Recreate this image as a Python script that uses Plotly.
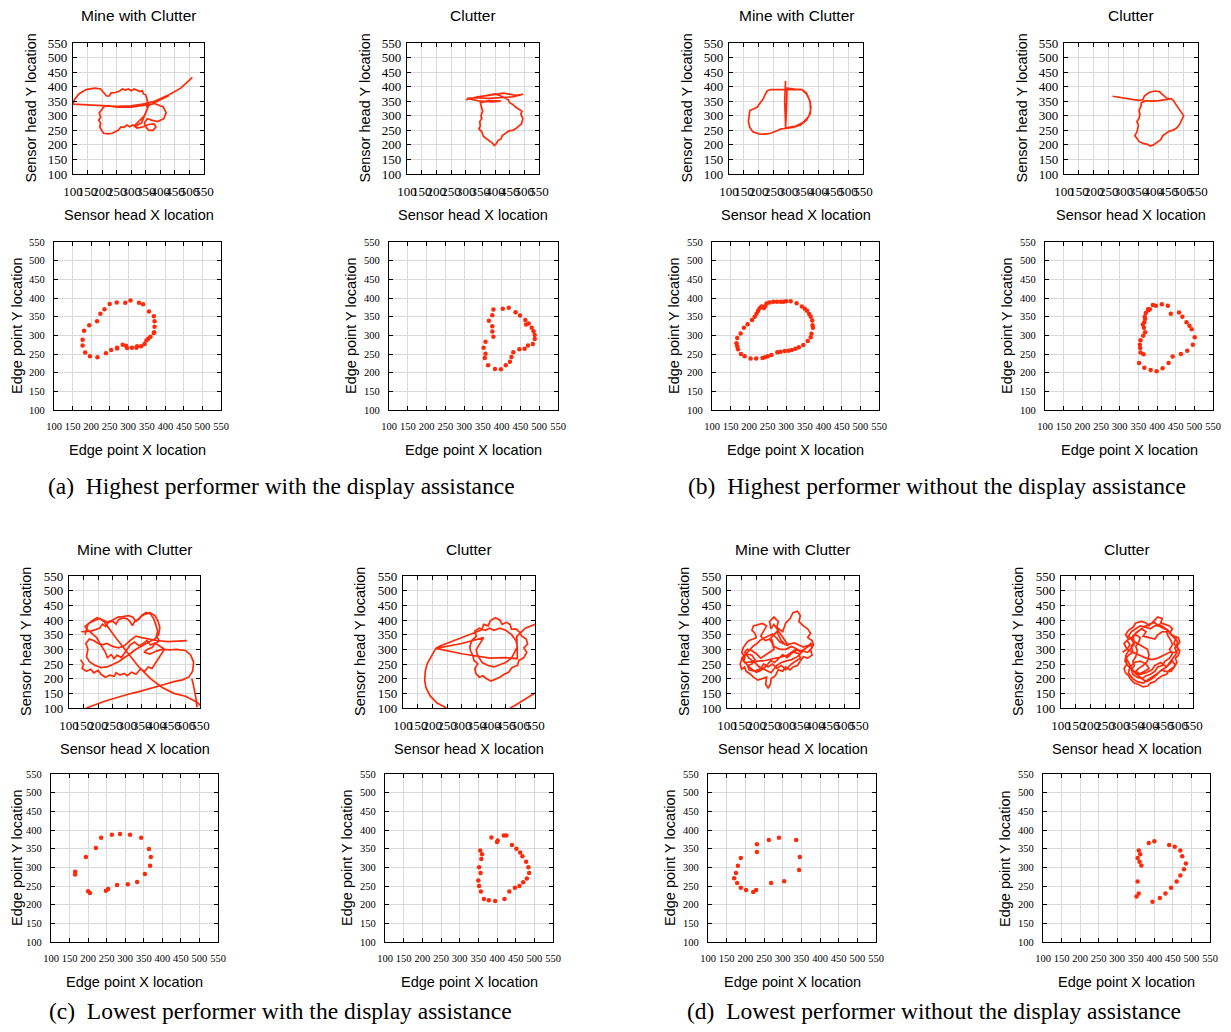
import plotly.graph_objects as go

# ---------------- DATA ----------------
tick_vals = [100, 150, 200, 250, 300, 350, 400, 450, 500, 550]
tick_text = ["100", "150", "200", "250", "300", "350", "400", "450", "500", "550"]

col_titles = ["Mine with Clutter", "Clutter", "Mine with Clutter", "Clutter"]
head_x_title = "Sensor head X location"
head_y_title = "Sensor head Y location"
edge_x_title = "Edge point X location"
edge_y_title = "Edge point Y location"
captions = ["(a)\u00a0 Highest performer with the display assistance",
            "(b)\u00a0 Highest performer without the display assistance",
            "(c)\u00a0 Lowest performer with the display assistance",
            "(d)\u00a0 Lowest performer without the display assistance"]

# (a) highest performer, with display - mine with clutter: sensor head path
a_mine_head_x = [510, 470, 430, 380, 340, 300, 250, 200, 150, 100, 105, 120, 145, 175, 195, 205, 215, 225, 230, 245,
                 260, 270, 280, 290, 300, 310, 320, 330, 338, 342, 350, 352, 356, 352, 356, 350, 345, 340, 335, 325,
                 315, 305, 295, 285, 275, 265, 255, 245, 235, 220, 205, 198, 192, 195, 188, 195, 190, 198, 205, 220,
                 250, 300, 350, 380, 410, 420, 412, 390, 370, 355, 345, 350, 360, 375, 385, 378, 360, 340, 320, 310,
                 320, 345, 360, 400, 430]
a_mine_head_y = [432, 395, 372, 350, 340, 334, 332, 334, 338, 340, 355, 375, 390, 395, 392, 378, 368, 368, 378, 380,
                 385, 392, 388, 392, 386, 392, 388, 383, 386, 375, 372, 360, 350, 340, 325, 310, 300, 285, 275, 270,
                 262, 268, 262, 268, 260, 262, 250, 245, 240, 238, 240, 250, 262, 275, 285, 295, 310, 320, 330, 335,
                 330, 330, 338, 342, 330, 310, 290, 280, 285, 290, 275, 262, 250, 250, 262, 272, 270, 262, 258, 265,
                 275, 300, 335, 355, 370]
# (a) clutter: sensor head path
a_clut_head_x = [300, 340, 390, 430, 470, 496, 460, 420, 380, 330, 305, 350, 390, 420, 380, 350, 355, 358, 352, 355,
                 348, 350, 345, 355, 360, 372, 382, 392, 398, 405, 410, 420, 425, 435, 448, 460, 470, 478, 490, 495,
                 488, 492, 480, 470, 462, 450, 445, 435, 420, 400, 380, 360]
a_clut_head_y = [355, 365, 372, 378, 370, 374, 365, 362, 360, 362, 360, 350, 348, 350, 352, 345, 330, 315, 300, 290,
                 280, 265, 255, 245, 230, 220, 215, 205, 198, 205, 215, 220, 232, 240, 248, 250, 255, 262, 272, 290,
                 305, 315, 322, 330, 338, 345, 355, 360, 368, 375, 372, 368]
# (a) edge points
a_mine_edge_x = [181, 177, 177, 184, 197, 217, 240, 254, 270, 270, 285, 294, 297, 310, 322, 324, 335, 344, 349, 354,
                 360, 369, 370, 371, 371, 369, 356, 340, 329, 306, 292, 269, 250, 236, 225, 216, 195]
a_mine_edge_y = [312, 288, 273, 254, 244, 241, 252, 261, 267, 265, 275, 272, 266, 267, 267, 271, 271, 277, 286, 291,
                 296, 306, 308, 323, 338, 351, 364, 383, 387, 393, 387, 388, 384, 370, 358, 338, 327]
a_clut_edge_x = [378, 403, 419, 437, 449, 463, 465, 472, 480, 485, 488, 488, 483, 470, 461, 447, 431, 426, 422, 411,
                 398, 382, 364, 355, 357, 352, 357, 378, 375, 375, 366, 375]
a_clut_edge_y = [369, 371, 374, 362, 353, 341, 329, 332, 320, 311, 301, 290, 277, 273, 264, 263, 255, 242, 229, 220,
                 209, 210, 220, 239, 251, 267, 283, 296, 310, 324, 339, 354]

# (b) highest performer, without display
b_mine_head_x = [290, 288, 287, 289, 290, 292, 293, 295, 320, 345, 360, 370, 375, 372, 360, 340, 315, 290, 275, 265,
                 255, 240, 220, 200, 180, 170, 165, 168, 170, 185, 195, 205, 215, 220, 225, 228, 240, 265, 290, 320,
                 345, 360, 372, 374, 368, 350, 325, 300, 286]
b_mine_head_y = [420, 390, 350, 300, 262, 300, 350, 395, 392, 390, 375, 355, 330, 305, 285, 268, 260, 258, 255, 250,
                 245, 240, 237, 238, 245, 260, 280, 300, 318, 325, 330, 345, 358, 370, 378, 385, 390, 390, 392, 392,
                 390, 378, 350, 320, 298, 278, 265, 260, 258]
b_clut_head_x = [263, 300, 350, 365, 370, 385, 405, 420, 432, 445, 460, 468, 475, 482, 490, 498, 502, 495, 488, 478,
                 465, 455, 445, 432, 425, 415, 400, 390, 380, 365, 352, 345, 338, 345, 348, 350, 345, 352, 355, 352,
                 358, 360, 375, 395, 420, 440, 455]
b_clut_head_y = [367, 360, 353, 355, 368, 380, 385, 383, 372, 360, 358, 352, 340, 330, 320, 308, 300, 285, 270, 258,
                 250, 248, 240, 232, 218, 210, 200, 196, 202, 205, 212, 222, 232, 245, 255, 268, 280, 292, 305, 318,
                 332, 345, 352, 350, 352, 355, 358]
b_mine_edge_x = [237, 240, 243, 247, 255, 265, 275, 285, 293, 300, 312, 328, 342, 350, 356, 362, 366, 370, 371, 372,
                 368, 366, 358, 346, 334, 325, 315, 306, 296, 285, 276, 260, 250, 243, 236, 219, 204, 188, 178, 170,
                 168, 166, 168, 177, 186, 196, 208, 215, 220, 224, 228, 233]
b_mine_edge_y = [376, 373, 378, 385, 388, 390, 390, 390, 390, 391, 391, 386, 377, 371, 366, 357, 350, 340, 327, 320,
                 304, 295, 285, 274, 268, 264, 261, 259, 258, 256, 255, 247, 244, 241, 239, 238, 238, 244, 250, 263,
                 271, 279, 293, 305, 320, 330, 341, 350, 358, 365, 372, 377]
b_clut_edge_x = [389, 397, 413, 429, 437, 459, 468, 479, 487, 493, 501, 496, 481, 464, 442, 431, 415, 399, 383, 366,
                 352, 364, 356, 355, 354, 356, 363, 368, 365, 362, 366, 368, 367, 370, 376, 381, 377]
b_clut_edge_y = [381, 379, 383, 379, 358, 361, 350, 335, 326, 316, 295, 275, 259, 250, 243, 226, 212, 204, 207, 213,
                 226, 249, 254, 266, 275, 287, 299, 308, 320, 329, 335, 344, 350, 360, 370, 370, 367]

# (c) lowest performer, with display (None = pen lifted / path outside the view)
c_mine_head_x = [142, 175, 205, 215, 226, 236, 250, 262, 270, 285, 300, 310, 318, 326, 340, 350, 365, 380, 392, 398,
                 405, 400, 410, 395, 385, 370, 358, 378, 400, 420, 445, 470, 500, 518, 528, 525, 512, 490, 460, 430,
                 400, 370, 340, 300, 262, 222, 192, 172, 160, None,
                 140, 150, 145, 160, 175, 185, 200, 210, 225,
                 240, 255, 262, 275, 290, 300, 315, 330, 345, 360, 372, 385, 395, 405, 420, 428, 410, 395, 380, 368,
                 355, 340, 325, 310, 300, 290, 280, 265, 255, 245, 232, 225, 215, 205, 195, 180, 165, 155, 170, 188,
                 205, 220, 260, 300, 340, 380, 420, 460, 500, 540, 555, None,
                 155, 165, 180, 196, 215, 232, 250, 268, 285, 305, 318, 330, 345, 362, 378, 395, 405, 412, 408, 395,
                 375, 350, 330, 310, 290, 270, 250, 230, 210, 190, 170, 160, 165, 158, 170, 185, 200, 215, 230, 250,
                 270, 290, 310, 330, 350, 370, 400, 440, 480, 505, None,
                 540, 535, 527, 522]
c_mine_head_y = [360, 362, 372, 386, 378, 393, 396, 386, 401, 407, 404, 394, 381, 396, 402, 416, 426, 421, 402, 381,
                 362, 345, 330, 318, 306, 300, 290, 284, 294, 300, 298, 300, 296, 281, 256, 226, 206, 196, 190, 181,
                 172, 163, 156, 146, 136, 123, 112, 104, 100, None,
                 265, 248, 235, 225, 232, 220, 228, 215, 205,
                 212, 208, 220, 212, 218, 210, 222, 215, 232, 225, 240, 235, 250, 265, 285, 300, 312, 322, 315, 330,
                 320, 312, 325, 315, 300, 285, 272, 280, 268, 282, 272, 290, 305, 322, 340, 352, 365, 378, 390, 398,
                 405, 395, 340, 290, 240, 200, 170, 150, 140, 120, 105, None,
                 350, 385, 398, 408, 400, 392, 400, 410, 412, 415, 410, 396, 410, 420, 425, 415, 398, 375, 350, 335,
                 325, 310, 300, 285, 270, 258, 248, 240, 238, 245, 258, 275, 300, 320, 335, 330, 320, 315, 320, 310,
                 305, 312, 330, 345, 340, 335, 330, 326, 328, 330, None,
                 102, 140, 180, 200]
c_clut_head_x = [248, 215, 192, 178, 174, 176, 182, 195, 212, 228, 254, 290, 328, 350, 368, 375, 390, 398, 415, 430,
                 438, 452, 465, 470, 485, 498, 505, 520, 525, 512, 522, 512, 495, 490, 472, 460, 445, 430, 415, 400,
                 385, 372, 360, 348, 345, 355, 342, 338, 330, 328, 335, 350, 345, 360, 380, 395, 410, 430, 450, 470,
                 485, 490, 480, 470, 450, 430, 410, 390, 370, 360, 352, 350, 362, 375, 300, 212, 300, 397, 450, 490,
                 488, 517, 550, None, 550, 510, 480, 465]
c_clut_head_y = [100, 118, 142, 170, 195, 225, 250, 275, 303, 312, 322, 335, 349, 360, 366, 385, 380, 398, 408, 400,
                 385, 392, 385, 368, 370, 358, 345, 335, 318, 305, 290, 272, 262, 245, 238, 222, 215, 205, 198, 192,
                 200, 210, 205, 218, 235, 250, 262, 280, 295, 310, 330, 345, 362, 372, 365, 372, 365, 372, 365, 350,
                 330, 310, 290, 270, 255, 248, 240, 245, 255, 270, 285, 300, 320, 340, 320, 303, 285, 270, 272, 268,
                 344, 372, 385, None, 151, 125, 108, 100]

# (d) lowest performer, without display
d_mine_head_x = [310, 290, 270, 260, 250, 245, 260, 275, 270, 290, 300, 315, 325, 340, 350, 345, 360, 375, 385, 375,
                 390, 395, 385, 390, 375, 360, 350, 340, 325, 315, 300, 290, 275, 265, 250, 248, 240, 232, 235, 220,
                 205, 190, 180, 165, 160, 150, 145, 150, 160, 150, 155, 165, 175, 190, 200, 195, 185, 190, 205, 220,
                 235, 225, 215, 230, 245, 255, 260, 245, 230, 215, 200, 185, 170, 160, 175, 195, 210, 230, 250, 270,
                 285, 300, 320, 340, 355, 370, 385, 390, 375, 355, 335, 320, 305, 290, 270, 250, 230, 205, 180, 160,
                 150, 165, 185, 195, 185, 170, 175, 195, 215, 225, 240, 255, 270, 285, 300, 320, 335, 350, 345, 330,
                 340, 320, 300, 280, 260, 250, 270, 285, 300, 330, 360, 390, 370, 350, 335, 320, 305, 290, 275, 262,
                 250, 240, 228, 215, 200, 185, 170, 158, 162, 175, 188, 200, 212, 225, 240, 255, 268, 280, 295, 310]
d_mine_head_y = [312, 340, 370, 385, 370, 395, 410, 395, 375, 360, 390, 405, 425, 430, 415, 395, 380, 370, 355, 340,
                 330, 315, 300, 280, 270, 275, 260, 245, 240, 230, 240, 225, 230, 210, 200, 180, 168, 180, 205, 200,
                 195, 205, 215, 225, 240, 232, 250, 265, 275, 290, 305, 320, 330, 335, 340, 355, 365, 380, 385, 388,
                 380, 360, 345, 330, 335, 320, 300, 290, 280, 270, 285, 295, 300, 290, 270, 255, 240, 230, 220, 245,
                 255, 260, 265, 275, 290, 305, 320, 305, 290, 295, 300, 290, 280, 275, 270, 265, 262, 260, 258, 255,
                 270, 285, 280, 265, 250, 245, 230, 225, 235, 250, 240, 250, 235, 245, 230, 250, 260, 270, 285, 290,
                 300, 310, 300, 300, 310, 340, 360, 330, 315, 322, 308, 318, 305, 292, 300, 285, 272, 282, 268, 255,
                 262, 250, 238, 228, 222, 232, 245, 260, 280, 295, 310, 318, 330, 338, 345, 352, 340, 325, 318, 312]
d_clut_head_x = [310, 325, 315, 330, 320, 330, 345, 355, 375, 390, 400, 415, 430, 445, 440, 455, 470, 480, 470, 485,
                 500, 505, 495, 505, 500, 490, 495, 485, 470, 460, 445, 430, 420, 405, 395, 380, 365, 350, 340, 330,
                 320, 315, 325, 320, 330, 345, 340, 350, 345, 360, 375, 390, 380, 400, 420, 430, 445, 460, 465, 475,
                 480, 470, 480, 470, 455, 445, 430, 420, 405, 390, 375, 360, 345, 340, 350, 345, 355, 360, 355, 365,
                 370, 355, 340, 325, 335, 325, 345, 370, 390, 410, 430, 450, 470, 490, 500, 485, 490, 475, 465, 450,
                 435, 420, 405, 390, 370, 355, 340, 330, 345, 360, 380, 395, 400, 395, 380, 365, 355, 370, 390, 410,
                 420, 440, 460, 470, 480, 490, 475, 455, 445, 425, 410, 395, 380, 360, 345, 330, 335, 350, 370, 390,
                 400, 385, 365, 345, 330, 318, 322, 335, 350, 340, 352, 368, 385, 400, 418, 432, 448, 462, 476, 490,
                 498, 488, 495, 482, 470, 458, 440, 425, 410, 392, 378, 362, 350, 338, 328, 320]
d_clut_head_y = [290, 300, 320, 335, 350, 365, 375, 390, 395, 390, 380, 395, 410, 405, 390, 385, 380, 370, 355, 345,
                 340, 325, 310, 295, 280, 270, 255, 240, 230, 215, 210, 200, 190, 185, 175, 172, 180, 185, 195, 210,
                 220, 235, 250, 265, 280, 290, 310, 325, 345, 360, 370, 360, 345, 340, 335, 350, 360, 360, 345, 330,
                 315, 300, 285, 270, 260, 245, 240, 225, 215, 210, 200, 205, 215, 230, 245, 260, 275, 295, 310, 325,
                 340, 350, 340, 330, 315, 300, 290, 280, 270, 265, 270, 280, 290, 290, 300, 320, 335, 350, 365, 375,
                 385, 380, 370, 375, 380, 370, 360, 345, 330, 320, 310, 300, 280, 260, 245, 235, 225, 215, 220, 230,
                 245, 255, 240, 250, 260, 245, 225, 225, 230, 215, 205, 195, 185, 190, 200, 220, 240, 255, 260, 250,
                 235, 225, 215, 228, 242, 260, 282, 300, 318, 335, 352, 365, 378, 385, 392, 380, 372, 365, 352, 340,
                 322, 305, 288, 270, 255, 238, 228, 212, 200, 190, 198, 210, 222, 240, 258, 275]
c_mine_edge_x = [165, 165, 194, 200, 205, 221, 235, 264, 286, 313, 343, 364, 369, 367, 353, 332, 307, 278, 254, 248]
c_mine_edge_y = [288, 281, 328, 236, 231, 352, 379, 387, 389, 387, 379, 349, 328, 304, 282, 261, 255, 253, 242, 237]
c_clut_edge_x = [355, 360, 358, 352, 356, 350, 352, 357, 365, 378, 395, 402, 418, 425, 440, 452, 462, 468, 478, 484,
                 486, 480, 470, 460, 448, 433, 420, 400, 385]
c_clut_edge_y = [345, 335, 322, 300, 285, 265, 250, 235, 215, 212, 210, 372, 385, 385, 360, 350, 340, 330, 315, 300,
                 285, 270, 260, 250, 245, 235, 215, 368, 380]
d_mine_edge_x = [188, 180, 175, 170, 178, 188, 202, 221, 229, 231, 231, 263, 290, 336, 346, 344, 304, 269]
d_mine_edge_y = [325, 304, 285, 271, 258, 245, 239, 234, 239, 341, 362, 373, 379, 373, 328, 293, 263, 258]
d_clut_edge_x = [358, 362, 355, 360, 365, 355, 352, 358, 395, 415, 430, 445, 460, 470, 480, 485, 475, 470, 455, 440,
                 400, 385]
d_clut_edge_y = [345, 335, 325, 315, 305, 262, 222, 230, 208, 218, 230, 245, 262, 278, 295, 310, 330, 345, 355, 360,
                 370, 365]

# ---------------- LAYOUT (pixel boxes, in window pixels) ----------------
OFF = 8                      # page body margin of the html page
W, H = 1231 - 2 * OFF, 1032 - 2 * OFF
RED = "#ff2a0a"


def fx(p):
    return (p - OFF) / W


def fy(p):
    return 1 - (p - OFF) / H


panels = [
    # kind, x, y, (left, right, top, bottom) in window px
    ("head", a_mine_head_x, a_mine_head_y, (73, 204, 43, 174)),
    ("head", a_clut_head_x, a_clut_head_y, (407, 539, 43, 174)),
    ("head", b_mine_head_x, b_mine_head_y, (729, 863, 43, 174)),
    ("head", b_clut_head_x, b_clut_head_y, (1064, 1198, 43, 174)),
    ("edge", a_mine_edge_x, a_mine_edge_y, (54, 221, 242, 410)),
    ("edge", a_clut_edge_x, a_clut_edge_y, (389, 558, 242, 410)),
    ("edge", b_mine_edge_x, b_mine_edge_y, (712, 879, 242, 410)),
    ("edge", b_clut_edge_x, b_clut_edge_y, (1045, 1213, 242, 410)),
    ("head", c_mine_head_x, c_mine_head_y, (69, 200, 576, 708)),
    ("head", c_clut_head_x, c_clut_head_y, (403, 535, 576, 708)),
    ("head", d_mine_head_x, d_mine_head_y, (727, 859, 576, 708)),
    ("head", d_clut_head_x, d_clut_head_y, (1061, 1193, 576, 708)),
    ("edge", c_mine_edge_x, c_mine_edge_y, (51, 218, 774, 942)),
    ("edge", c_clut_edge_x, c_clut_edge_y, (385, 553, 774, 942)),
    ("edge", d_mine_edge_x, d_mine_edge_y, (708, 876, 774, 942)),
    ("edge", d_clut_edge_x, d_clut_edge_y, (1043, 1210, 774, 942)),
]

SANS = "Liberation Sans, Arial, sans-serif"
SERIF = "Liberation Serif, Times New Roman, serif"

fig = go.Figure()
layout = dict(width=W, height=H, margin=dict(l=0, r=0, t=0, b=0, pad=0, autoexpand=False),
              paper_bgcolor="white", plot_bgcolor="white", showlegend=False, template="none")
annotations = []

for i, (kind, xs, ys, (l, r, t, b)) in enumerate(panels):
    n = i + 1
    sfx = "" if n == 1 else str(n)
    if kind == "head":
        fig.add_trace(go.Scatter(x=xs, y=ys, mode="lines", line=dict(color=RED, width=1.7),
                                 connectgaps=False,
                                 xaxis="x" + sfx, yaxis="y" + sfx, hoverinfo="skip"))
        tfs = 13
        xstand, ystand = 5, 2
        xt, yt = head_x_title, head_y_title
    else:
        fig.add_trace(go.Scatter(x=xs, y=ys, mode="markers",
                                 marker=dict(color=RED, size=4.5, line=dict(width=0)),
                                 xaxis="x" + sfx, yaxis="y" + sfx, hoverinfo="skip"))
        tfs = 10.5
        xstand, ystand = 6, 6
        xt, yt = edge_x_title, edge_y_title
    common = dict(range=[100, 550], tickmode="array", tickvals=tick_vals, ticktext=tick_text,
                  showgrid=True, gridcolor="#dadada", gridwidth=1.3, zeroline=False,
                  showline=True, linecolor="black", linewidth=1.2, mirror="allticks",
                  ticks="inside", ticklen=4, tickcolor="black", tickwidth=1, automargin=False,
                  tickfont=dict(family=SERIF, size=tfs, color="black"), fixedrange=True)
    layout["xaxis" + sfx] = dict(common, domain=[fx(l), fx(r)], anchor="y" + sfx,
                                 tickangle=0, ticklabelstandoff=xstand)
    layout["yaxis" + sfx] = dict(common, domain=[fy(b), fy(t)], anchor="x" + sfx,
                                 ticklabelstandoff=ystand)
    cx = (l + r) / 2
    cy = (t + b) / 2
    # x-axis title
    xty = b + (41 if kind == "head" else 40)
    annotations.append(dict(text=xt, x=fx(cx), y=fy(xty), xref="paper", yref="paper",
                            showarrow=False, xanchor="center", yanchor="middle",
                            font=dict(family=SANS, size=14.5, color="black")))
    # y-axis title
    ytx = max(l - (43 if kind == "head" else 38), 17)
    annotations.append(dict(text=yt, x=fx(ytx), y=fy(cy), xref="paper", yref="paper",
                            showarrow=False, xanchor="center", yanchor="middle", textangle=-90,
                            font=dict(family=SANS, size=14.5, color="black")))
    # column titles for head plots
    if kind == "head":
        annotations.append(dict(text=col_titles[i % 4], x=fx(cx), y=fy(t - 27),
                                xref="paper", yref="paper", showarrow=False,
                                xanchor="center", yanchor="middle",
                                font=dict(family=SANS, size=15.5, color="black")))

cap_pos = [(281, 486), (937, 486), (280, 1011), (934, 1011)]
for txt, (cx, cy) in zip(captions, cap_pos):
    annotations.append(dict(text=txt, x=fx(cx), y=fy(cy), xref="paper", yref="paper",
                            showarrow=False, xanchor="center", yanchor="middle",
                            font=dict(family=SERIF, size=23.5, color="black")))

layout["annotations"] = annotations
fig.update_layout(**layout)
fig.write_html("out.html")
